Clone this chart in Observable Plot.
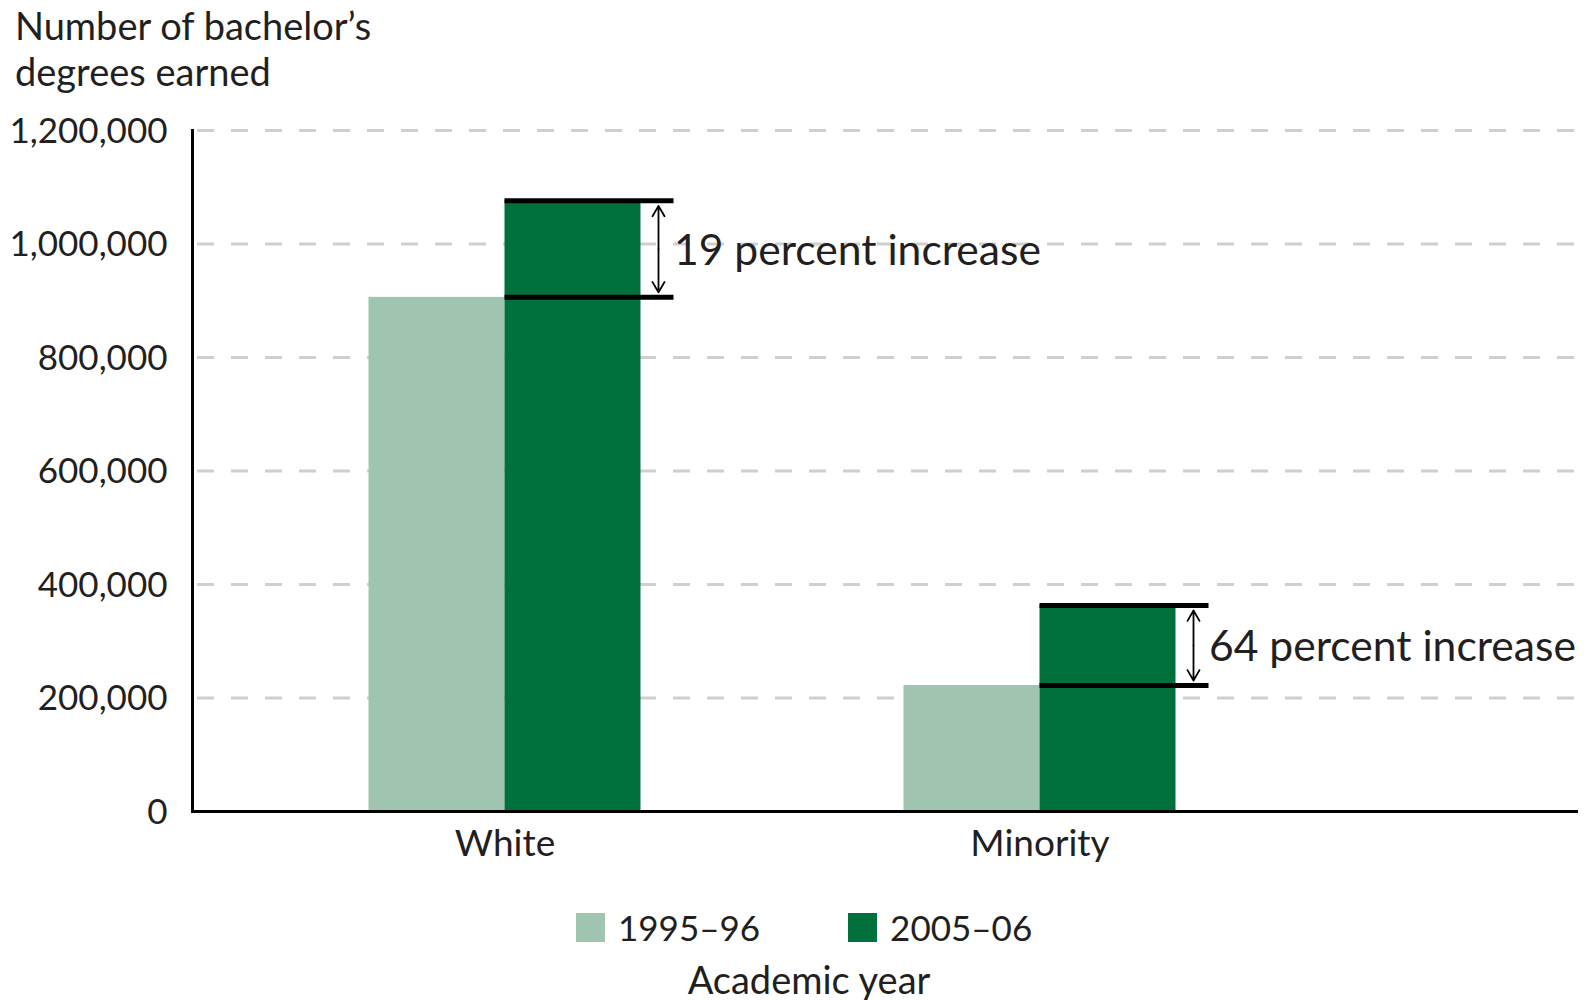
<!DOCTYPE html>
<html>
<head>
<meta charset="utf-8">
<script src="https://cdn.jsdelivr.net/npm/d3@7"></script>
<script src="https://cdn.jsdelivr.net/npm/@observablehq/plot@0.6"></script>
<style>
  html, body { margin: 0; padding: 0; background: #fff; }
  #wrap { position: relative; width: 1589px; height: 1000px; font-family: Lato, sans-serif; color: #231f20; }
  #title { position: absolute; left: 15px; top: 2px; font-size: 38px; line-height: 46px; }
  #chart { position: absolute; left: 0; top: 100px; }
  #legend { position: absolute; left: 576px; top: 912px; display: flex; align-items: center; font-size: 35px; line-height: 30px; }
  .item { display: flex; align-items: center; margin-right: 88px; }
  .item:last-child { margin-right: 0; }
  .sw { width: 29px; height: 29px; margin-right: 13px; }
  #legendTitle { position: absolute; left: 0; width: 1618px; text-align: center; top: 960px; font-size: 38px; line-height: 38px; }
</style>
</head>
<body>
<div id="wrap">
  <div id="title"></div>
  <div id="chart"></div>
  <div id="legend"></div>
  <div id="legendTitle"></div>
</div>
<script>
// ---- data ----
const groups = ["White", "Minority"];
const years = ["1995–96", "2005–06"];
const values1995 = [906000, 222000];
const values2005 = [1076000, 363000];
const increaseLabels = ["19 percent increase", "64 percent increase"];
const yTicks = [0, 200000, 400000, 600000, 800000, 1000000, 1200000];
const colors = ["#9fc5b1", "#00713d"];
const titleLines = ["Number of bachelor’s", "degrees earned"];
const legendTitle = "Academic year";

// ---- tables built from the arrays ----
const bars95 = groups.map((g, i) => ({group: g, year: years[0], value: values1995[i]}));
const bars05 = groups.map((g, i) => ({group: g, year: years[1], value: values2005[i]}));
const levels = groups.flatMap((g, i) => [{group: g, value: values1995[i]}, {group: g, value: values2005[i]}]);
const annot = groups.map((g, i) => ({
  group: g, lo: values1995[i], hi: values2005[i], mid: (values1995[i] + values2005[i]) / 2, label: increaseLabels[i]
}));

const ink = "#231f20";

const chart = Plot.plot({
  width: 1589,
  height: 780,
  marginTop: 30,
  marginBottom: 69,
  marginLeft: 192,
  marginRight: 11,
  style: {fontFamily: "Lato, sans-serif", color: ink, background: "transparent", overflow: "visible"},
  x: {domain: groups, range: [236.5, 1306.5], padding: 0, label: null},
  y: {domain: [0, 1200000], label: null},
  marks: [
    Plot.ruleY(yTicks.filter(d => d > 0), {stroke: "#cfcfcf", strokeOpacity: 1, strokeWidth: 3, strokeDasharray: "17 17", insetLeft: 5}),
    Plot.barY(bars95, {x: "group", y: "value", fill: colors[0], insetLeft: 131.5, insetRight: 267.5}),
    Plot.barY(bars05, {x: "group", y: "value", fill: colors[1], insetLeft: 267.5, insetRight: 131.5}),
    Plot.ruleY(levels, {x1: "group", x2: "group", y: "value", stroke: "#000", strokeWidth: 5, insetLeft: 267.5, insetRight: 98.5}),
    Plot.arrow(annot, {x1: "group", x2: "group", y1: "mid", y2: "hi", dx: 153.5, stroke: "#000", strokeWidth: 1.8, headLength: 10, insetEnd: 5}),
    Plot.arrow(annot, {x1: "group", x2: "group", y1: "mid", y2: "lo", dx: 153.5, stroke: "#000", strokeWidth: 1.8, headLength: 10, insetEnd: 5}),
    Plot.text(annot, {x: "group", y: "mid", text: "label", dx: 169, dy: 2, textAnchor: "start", lineAnchor: "middle", fontSize: 42.6, fill: ink}),
    Plot.ruleY([0], {stroke: "#000", strokeWidth: 3}),
    Plot.frame({anchor: "left", stroke: "#000", strokeWidth: 3}),
    Plot.axisY({ticks: yTicks, tickFormat: d3.format(","), tickSize: 0, tickPadding: 25, dy: 1, fontSize: 35, fill: ink, label: null}),
    Plot.axisX({tickSize: 0, tickPadding: 18, fontSize: 37, fill: ink, label: null})
  ]
});
document.getElementById("chart").appendChild(chart);

// ---- title ----
document.getElementById("title").innerHTML = titleLines.join("<br>");

// ---- legend ----
const legend = d3.select("#legend");
years.forEach((y, i) => {
  const it = legend.append("div").attr("class", "item");
  it.append("div").attr("class", "sw").style("background", colors[i]);
  it.append("span").text(y);
});
document.getElementById("legendTitle").textContent = legendTitle;
</script>
</body>
</html>
